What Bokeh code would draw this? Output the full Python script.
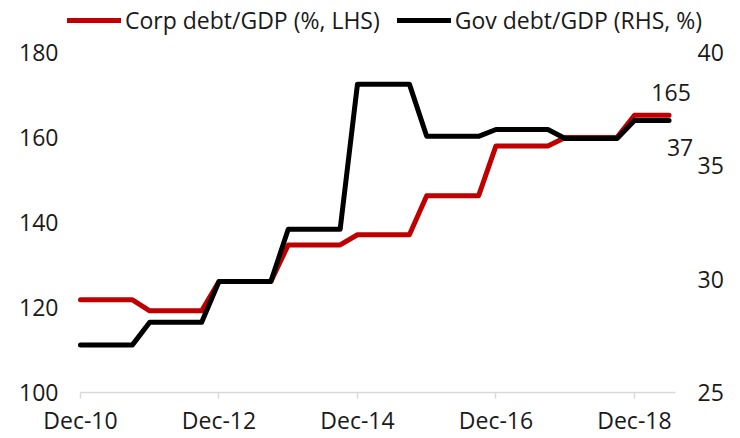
from bokeh.plotting import figure
from bokeh.models import (Range1d, LinearAxis, FixedTicker, Legend, LegendItem, Label)
from bokeh.embed import file_html
from bokeh.resources import INLINE

quarters = ["Dec-10", "Mar-11", "Jun-11", "Sep-11", "Dec-11", "Mar-12", "Jun-12", "Sep-12",
            "Dec-12", "Mar-13", "Jun-13", "Sep-13", "Dec-13", "Mar-14", "Jun-14", "Sep-14",
            "Dec-14", "Mar-15", "Jun-15", "Sep-15", "Dec-15", "Mar-16", "Jun-16", "Sep-16",
            "Dec-16", "Mar-17", "Jun-17", "Sep-17", "Dec-17", "Mar-18", "Jun-18", "Sep-18",
            "Dec-18", "Mar-19", "Jun-19"]
corp_debt = [121.8, 121.8, 121.8, 121.8, 119.2, 119.2, 119.2, 119.2,
             126.1, 126.1, 126.1, 126.1, 134.7, 134.7, 134.7, 134.7,
             137.1, 137.1, 137.1, 137.1, 146.3, 146.3, 146.3, 146.3,
             158.0, 158.0, 158.0, 158.0, 160.0, 160.0, 160.0, 160.0,
             165.2, 165.2, 165.2]
gov_debt = [27.1, 27.1, 27.1, 27.1, 28.1, 28.1, 28.1, 28.1,
            29.9, 29.9, 29.9, 29.9, 32.2, 32.2, 32.2, 32.2,
            38.6, 38.6, 38.6, 38.6, 36.3, 36.3, 36.3, 36.3,
            36.6, 36.6, 36.6, 36.6, 36.2, 36.2, 36.2, 36.2,
            37.0, 37.0, 37.0]
x_tick_labels = ["Dec-10", "Dec-12", "Dec-14", "Dec-16", "Dec-18"]
left_ticks = [100, 120, 140, 160, 180]
right_ticks = [25, 30, 35, 40]
end_labels = ["165", "37"]

FONT = "Open Sans"
TXT = "#1a1a1a"
RED = "#C00000"
FS = "23px"

xs = list(range(len(quarters)))
tick_pos = [quarters.index(q) for q in x_tick_labels]

# frame: x 62..712, y 0..393 ; Dec-10 at x=80, 17.31 px per quarter
p = figure(width=740, height=438, output_backend="svg", toolbar_location=None,
           x_range=Range1d(-1.04, 36.51), y_range=Range1d(100, 192.2),
           min_border_left=62, min_border_right=28, min_border_top=0, min_border_bottom=45,
           y_axis_location=None)
p.outline_line_color = None
p.grid.visible = False
p.background_fill_color = "white"
p.border_fill_color = "white"

p.extra_y_ranges = {"rhs": Range1d(25, 42.29)}

# x axis
xa = p.xaxis[0]
xa.bounds = (0, 34.37)
xa.ticker = FixedTicker(ticks=tick_pos)
xa.major_label_overrides = {pos: lab for pos, lab in zip(tick_pos, x_tick_labels)}
xa.axis_line_color = "#d9d9d9"
xa.axis_line_width = 1.5
xa.major_tick_line_color = "#d9d9d9"
xa.major_tick_line_width = 1.5
xa.major_tick_in = 0
xa.major_tick_out = 6
xa.minor_tick_line_color = None
xa.major_label_text_font = FONT
xa.major_label_text_font_size = FS
xa.major_label_text_color = TXT
xa.major_label_standoff = 5

la = LinearAxis(ticker=FixedTicker(ticks=left_ticks))
ra = LinearAxis(y_range_name="rhs", ticker=FixedTicker(ticks=right_ticks))
for ax in (la, ra):
    ax.axis_line_color = None
    ax.major_tick_line_color = None
    ax.minor_tick_line_color = None
    ax.major_tick_in = 0
    ax.major_tick_out = 0
    ax.major_label_text_font = FONT
    ax.major_label_text_font_size = FS
    ax.major_label_text_color = TXT
la.major_label_standoff = 4
ra.major_label_standoff = -15
p.add_layout(la, "left")
p.add_layout(ra, "right")

r_corp = p.line(xs, corp_debt, line_color=RED, line_width=5,
                line_join="round", line_cap="round")
r_gov = p.line(xs, gov_debt, line_color="black", line_width=5, y_range_name="rhs",
               line_join="round", line_cap="round")

legend = Legend(items=[LegendItem(label="Corp debt/GDP (%, LHS)", renderers=[r_corp]),
                       LegendItem(label="Gov debt/GDP (RHS, %)", renderers=[r_gov])],
                orientation="horizontal", location=(5, 356),
                glyph_width=54, glyph_height=20, label_height=20, label_standoff=4,
                spacing=17, padding=0, margin=0,
                label_text_font=FONT, label_text_font_size=FS, label_text_color=TXT,
                background_fill_alpha=0, border_line_color=None)
p.add_layout(legend, "center")

p.add_layout(Label(x=xs[-1], y=corp_debt[-1], text=end_labels[0], text_font=FONT,
                   text_font_size=FS, text_color=TXT, text_align="center",
                   text_baseline="middle", x_offset=2, y_offset=23))
p.add_layout(Label(x=xs[-1], y=gov_debt[-1], text=end_labels[1], y_range_name="rhs",
                   text_font=FONT, text_font_size=FS, text_color=TXT, text_align="center",
                   text_baseline="middle", x_offset=11, y_offset=-27))

open("out.html", "w").write(file_html(p, INLINE))
